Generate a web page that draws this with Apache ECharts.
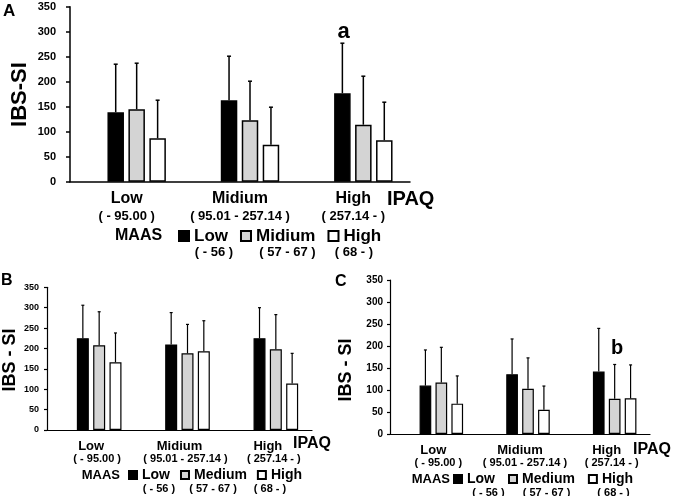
<!DOCTYPE html>
<html><head><meta charset="utf-8">
<script src="https://cdn.jsdelivr.net/npm/echarts@6/dist/echarts.min.js"></script>
<style>html,body{margin:0;padding:0;background:#fff}#c{width:676px;height:496px}</style>
</head><body><div id="c"></div>
<script>
// ---- data ----
const ipaqCats = ['Low', 'Midium', 'High'];
const ipaqRanges = ['( - 95.00 )', '( 95.01 - 257.14 )', '( 257.14 - )'];
const maasNamesA = ['Low', 'Midium', 'High'];
const maasNamesBC = ['Low', 'Medium', 'High'];
const maasRanges = ['( - 56 )', '( 57 - 67 )', '( 68 - )'];
const yMin = 0, yMax = 350, yStep = 50;

// Panel A (means per MAAS level across IPAQ categories, and SD)
const aMeanMaasLow = [139, 163, 177];
const aMeanMaasMid = [145, 123, 114];
const aMeanMaasHigh = [87, 74, 83];
const aSdMaasLow = [96, 88, 100];
const aSdMaasMid = [92, 78, 97];
const aSdMaasHigh = [76, 75, 76];

// Panel B
const bMeanMaasLow = [225, 210, 225];
const bMeanMaasMid = [208, 188, 198];
const bMeanMaasHigh = [166, 193, 114];
const bSdMaasLow = [81, 78, 75];
const bSdMaasMid = [82, 71, 85];
const bSdMaasHigh = [72, 75, 74];

// Panel C
const cMeanMaasLow = [110, 136, 142];
const cMeanMaasMid = [117, 103, 80];
const cMeanMaasHigh = [69, 55, 81];
const cSdMaasLow = [81, 80, 98];
const cSdMaasMid = [80, 70, 78];
const cSdMaasHigh = [63, 54, 76];

// ---- styling / build ----
const FONT = '"Liberation Sans", Arial, Helvetica, sans-serif';
const fills = ['#000000', '#d4d4d4', '#ffffff'];
const option = {
  animation: false, backgroundColor: '#ffffff',
  grid: [], xAxis: [], yAxis: [], series: [], legend: [], graphic: []
};

function txt(text, x, y, size, align, rot) {
  const el = {
    type: 'text', x: x, y: y, z: 10,
    style: {
      text: text, fill: '#000', font: 'bold ' + size + 'px ' + FONT,
      align: align || 'center', verticalAlign: 'middle',
      textAlign: align || 'center', textVerticalAlign: 'middle'
    }
  };
  if (rot) el.rotation = rot;
  option.graphic.push(el);
}

function addPanel(p) {
  const gi = option.grid.length;
  option.grid.push({ left: p.axisLeft, top: p.top, width: p.width, height: p.height });
  option.grid.push({ left: p.axisLeft + p.shift, top: p.top, width: p.width, height: p.height });
  const ls = { color: '#000', width: p.lw };
  option.xAxis.push({
    gridIndex: gi, type: 'category', data: ipaqCats, boundaryGap: true,
    axisLine: { show: true, lineStyle: ls }, axisTick: { show: false },
    axisLabel: {
      interval: 0, margin: p.labMargin, color: '#000',
      formatter: (v, i) => '{m|' + v + '}\n{s|' + ipaqRanges[i] + '}',
      rich: {
        m: { fontSize: p.mSize, lineHeight: p.mLH, fontWeight: 'bold', fontFamily: FONT, color: '#000' },
        s: { fontSize: p.sSize, lineHeight: p.sLH, fontWeight: 'bold', fontFamily: FONT, color: '#000', padding: [0, 0, 0, p.sPad] }
      }
    }
  });
  option.xAxis.push({ gridIndex: gi + 1, type: 'category', data: ipaqCats, show: false });
  option.yAxis.push({
    gridIndex: gi, type: 'value', min: yMin, max: yMax, interval: yStep,
    splitLine: { show: false },
    axisLine: { show: true, lineStyle: ls },
    axisTick: { show: true, inside: false, length: p.tickLen, lineStyle: ls },
    axisLabel: { margin: p.yLabMargin, color: '#000', fontSize: p.ySize, fontWeight: 'bold', fontFamily: FONT }
  });
  option.yAxis.push({ gridIndex: gi + 1, type: 'value', min: yMin, max: yMax, show: false });
  const gapFrac = parseFloat(p.gap) / 100;
  p.means.forEach((m, k) => {
    option.series.push({
      type: 'bar', name: p.names[k], xAxisIndex: gi + 1, yAxisIndex: gi + 1,
      data: m, barWidth: p.bw, barGap: p.gap, z: 2,
      itemStyle: { color: fills[k], borderColor: '#000', borderWidth: p.lw }
    });
  });
  p.means.forEach((m, k) => {
    option.series.push({
      type: 'custom', name: 'err' + gi + '_' + k, xAxisIndex: gi + 1, yAxisIndex: gi + 1, z: 3,
      data: m.map((v, i) => [i, v, v + p.sds[k][i]]),
      renderItem: (params, api) => {
        const c0 = api.coord([api.value(0), api.value(1)]);
        const c1 = api.coord([api.value(0), api.value(2)]);
        const x = c0[0] + (k - 1) * p.bw * (1 + gapFrac);
        const st = { stroke: '#000', lineWidth: p.lw };
        return {
          type: 'group', children: [
            { type: 'line', shape: { x1: x, y1: c0[1], x2: x, y2: c1[1] }, style: st },
            { type: 'line', shape: { x1: x - p.cap, y1: c1[1], x2: x + p.cap, y2: c1[1] }, style: st }
          ]
        };
      }
    });
  });
  option.legend.push({
    data: p.names, left: p.legLeft, top: p.legTop, padding: 0,
    itemWidth: p.icon, itemHeight: p.icon, itemGap: p.legGap, icon: 'rect',
    selectedMode: false,
    textStyle: { fontSize: p.legSize, fontWeight: 'bold', fontFamily: FONT, color: '#000' }
  });
}

addPanel({
  axisLeft: 70, shift: 10, top: 6.7, height: 175, width: 340,
  bw: 16.5, gap: '27%', lw: 1.5, cap: 2, tickLen: 4, labMargin: 8,
  mSize: 16, mLH: 18, sSize: 13, sLH: 17, sPad: 0,
  yLabMargin: 14, ySize: 11,
  names: maasNamesA,
  means: [aMeanMaasLow, aMeanMaasMid, aMeanMaasHigh],
  sds: [aSdMaasLow, aSdMaasMid, aSdMaasHigh],
  legLeft: 178, legTop: 227.5, icon: 10, legGap: 12, legSize: 17
});
addPanel({
  axisLeft: 47, shift: 8, top: 287.3, height: 142.7, width: 265,
  bw: 12, gap: '36%', lw: 1.2, cap: 1.5, tickLen: 3, labMargin: 10,
  mSize: 13, mLH: 13, sSize: 11, sLH: 12, sPad: 12,
  yLabMargin: 8, ySize: 9,
  names: maasNamesBC,
  means: [bMeanMaasLow, bMeanMaasMid, bMeanMaasHigh],
  sds: [bSdMaasLow, bSdMaasMid, bSdMaasHigh],
  legLeft: 128, legTop: 468, icon: 8, legGap: 10, legSize: 14
});
addPanel({
  axisLeft: 390, shift: 8, top: 280, height: 154, width: 260,
  bw: 11.7, gap: '36%', lw: 1.2, cap: 1.5, tickLen: 3, labMargin: 10,
  mSize: 13, mLH: 13, sSize: 11, sLH: 12, sPad: 10,
  yLabMargin: 7, ySize: 10,
  names: maasNamesBC,
  means: [cMeanMaasLow, cMeanMaasMid, cMeanMaasHigh],
  sds: [cSdMaasLow, cSdMaasMid, cSdMaasHigh],
  legLeft: 453, legTop: 472, icon: 8, legGap: 13, legSize: 14
});

// Panel A texts
txt('A', 3, 11, 17, 'left');
txt('IBS-SI', 20, 94.5, 22, 'center', Math.PI / 2);
txt('a', 343.5, 31.5, 22, 'center');
txt('IPAQ', 387, 199, 20, 'left');
txt('MAAS', 115, 236, 16, 'left');
txt(maasRanges[0], 214, 252, 13); txt(maasRanges[1], 287.5, 252, 13); txt(maasRanges[2], 354, 252, 13);
// Panel B texts
txt('B', 1, 281, 16, 'left');
txt('IBS - SI', 10, 360, 18, 'center', Math.PI / 2);
txt('IPAQ', 293, 444, 16, 'left');
txt('MAAS', 81.7, 475, 13, 'left');
txt(maasRanges[0], 159, 489, 11); txt(maasRanges[1], 213, 489, 11); txt(maasRanges[2], 270, 489, 11);
// Panel C texts
txt('C', 335, 282, 16, 'left');
txt('IBS - SI', 346, 370, 18, 'center', Math.PI / 2);
txt('b', 617, 348, 20, 'center');
txt('IPAQ', 633, 450, 16, 'left');
txt('MAAS', 411.7, 479, 13, 'left');
txt(maasRanges[0], 488.5, 493, 11); txt(maasRanges[1], 546.5, 493, 11); txt(maasRanges[2], 613.5, 493, 11);

const chart = echarts.init(document.getElementById('c'), null, { renderer: 'canvas' });
chart.setOption(option);
</script></body></html>
